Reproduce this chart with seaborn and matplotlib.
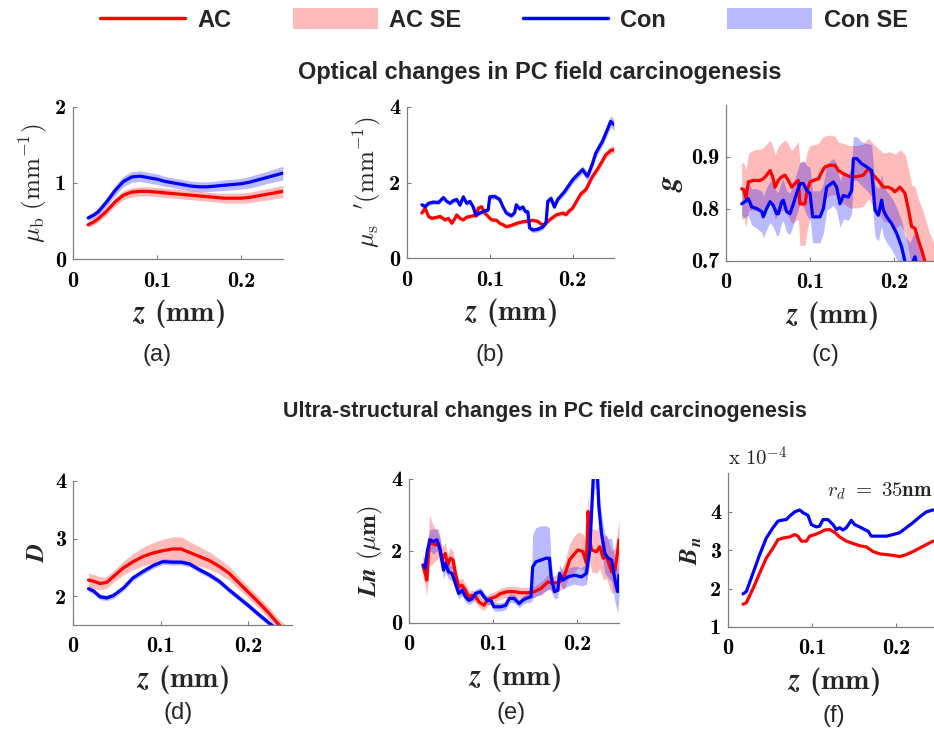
import matplotlib
matplotlib.use("Agg")
import matplotlib.pyplot as plt
import seaborn as sns
from matplotlib.lines import Line2D
from matplotlib.patches import Patch
from matplotlib.font_manager import FontProperties

sns.set_theme(style="ticks")
plt.rcParams["mathtext.fontset"] = "cm"
plt.rcParams["font.family"] = ["DejaVu Sans"]
plt.rcParams["axes.unicode_minus"] = False

RED = "#ff0000"
BLUE = "#0000ff"

# ---------------- (a) mu_b ----------------
z_a = [0.018, 0.025, 0.03, 0.04, 0.05, 0.06, 0.07, 0.08, 0.09, 0.10, 0.11, 0.12, 0.13,
       0.14, 0.15, 0.16, 0.17, 0.18, 0.19, 0.20, 0.21, 0.22, 0.23, 0.24, 0.25]
mub_ac = [0.45, 0.49, 0.53, 0.63, 0.75, 0.84, 0.88, 0.89, 0.89, 0.88, 0.87, 0.86, 0.85,
          0.84, 0.83, 0.82, 0.81, 0.80, 0.80, 0.80, 0.81, 0.83, 0.85, 0.87, 0.89]
mub_ac_se = [0.035, 0.04, 0.045, 0.05, 0.055, 0.06, 0.06, 0.06, 0.06, 0.06, 0.06, 0.06, 0.06,
             0.06, 0.06, 0.06, 0.06, 0.065, 0.065, 0.065, 0.07, 0.07, 0.075, 0.075, 0.08]
mub_con = [0.54, 0.58, 0.62, 0.75, 0.90, 1.02, 1.08, 1.09, 1.07, 1.05, 1.02, 1.00, 0.98,
           0.96, 0.95, 0.95, 0.96, 0.97, 0.98, 0.99, 1.01, 1.04, 1.07, 1.10, 1.13]
mub_con_se = [0.04, 0.045, 0.05, 0.06, 0.065, 0.07, 0.07, 0.07, 0.07, 0.07, 0.065, 0.065, 0.065,
              0.065, 0.065, 0.065, 0.065, 0.07, 0.07, 0.07, 0.075, 0.08, 0.08, 0.085, 0.09]

# ---------------- (b) mu_s' ----------------
z_b_con = [0.018, 0.022, 0.026, 0.032, 0.038, 0.044, 0.048, 0.052, 0.056, 0.060,
           0.064, 0.068, 0.072, 0.076, 0.080, 0.083, 0.088, 0.094, 0.098, 0.100,
           0.106, 0.112, 0.116, 0.120, 0.126, 0.130, 0.132, 0.136, 0.140, 0.143,
           0.146, 0.148, 0.152, 0.158, 0.164, 0.168, 0.170, 0.174, 0.178, 0.182,
           0.190, 0.200, 0.208, 0.212, 0.218, 0.224, 0.228, 0.236, 0.242, 0.246,
           0.250]
mus_con = [1.41, 1.36, 1.45, 1.48, 1.47, 1.60, 1.50, 1.45, 1.52, 1.55,
           1.40, 1.62, 1.45, 1.50, 1.35, 1.14, 1.19, 1.25, 1.27, 1.62,
           1.63, 1.55, 1.35, 1.19, 1.12, 1.20, 1.41, 1.30, 1.35, 1.23,
           1.22, 0.80, 0.74, 0.76, 0.82, 0.95, 1.50, 1.58, 1.35, 1.55,
           1.75, 2.07, 2.25, 2.34, 2.16, 2.50, 2.78, 3.09, 3.40, 3.62,
           3.53]
mus_con_se = [0.06, 0.06, 0.06, 0.06, 0.06, 0.06, 0.06, 0.06, 0.06, 0.06,
              0.06, 0.06, 0.06, 0.06, 0.06, 0.06, 0.06, 0.06, 0.06, 0.07,
              0.07, 0.07, 0.07, 0.07, 0.07, 0.07, 0.07, 0.07, 0.07, 0.07,
              0.07, 0.07, 0.07, 0.07, 0.07, 0.07, 0.08, 0.08, 0.08, 0.08,
              0.09, 0.10, 0.10, 0.11, 0.11, 0.12, 0.12, 0.13, 0.14, 0.15,
              0.15]
z_b_ac = [0.018, 0.022, 0.026, 0.030, 0.036, 0.040, 0.046, 0.050, 0.054, 0.058,
          0.060, 0.064, 0.068, 0.072, 0.076, 0.080, 0.084, 0.086, 0.090, 0.094,
          0.098, 0.102, 0.108, 0.112, 0.116, 0.120, 0.124, 0.128, 0.134, 0.140,
          0.146, 0.152, 0.158, 0.162, 0.166, 0.172, 0.180, 0.188, 0.192, 0.196,
          0.200, 0.206, 0.210, 0.216, 0.224, 0.232, 0.240, 0.246, 0.250]
mus_ac = [1.19, 1.32, 1.10, 1.05, 1.08, 1.10, 1.01, 1.05, 0.92, 1.05,
          1.14, 1.05, 1.01, 1.08, 1.10, 1.12, 1.12, 1.32, 1.36, 1.19,
          1.10, 1.01, 1.00, 0.92, 0.88, 0.83, 0.85, 0.88, 0.93, 0.96,
          0.98, 1.00, 0.97, 0.90, 0.88, 1.01, 1.14, 1.19, 1.15, 1.25,
          1.32, 1.55, 1.70, 1.81, 2.16, 2.42, 2.73, 2.85, 2.87]
mus_ac_se = [0.05, 0.05, 0.05, 0.05, 0.05, 0.05, 0.05, 0.05, 0.05, 0.05,
             0.05, 0.05, 0.05, 0.05, 0.05, 0.05, 0.05, 0.05, 0.05, 0.05,
             0.05, 0.05, 0.05, 0.05, 0.05, 0.05, 0.05, 0.05, 0.05, 0.05,
             0.05, 0.05, 0.05, 0.05, 0.05, 0.06, 0.06, 0.06, 0.06, 0.06,
             0.07, 0.07, 0.08, 0.08, 0.08, 0.09, 0.09, 0.10, 0.10]

# ---------------- (c) g ----------------
z_c_ac = [0.0187, 0.0214, 0.0238, 0.0266, 0.0325, 0.0405, 0.0444, 0.0484, 0.0524, 0.0556,
          0.0583, 0.0623, 0.0663, 0.0702, 0.0742, 0.0782, 0.0821, 0.0861, 0.0881, 0.0940,
          0.0968, 0.1000, 0.1040, 0.1100, 0.1139, 0.1179, 0.1238, 0.1298, 0.1337, 0.1397,
          0.1476, 0.1556, 0.1635, 0.1694, 0.1754, 0.1813, 0.1873, 0.1933, 0.1972, 0.2012,
          0.2071, 0.2131, 0.2171, 0.2210, 0.2250, 0.2290, 0.2329, 0.2369, 0.2420, 0.2500]
g_ac = [0.839, 0.836, 0.820, 0.852, 0.855, 0.855, 0.858, 0.865, 0.874, 0.862,
        0.842, 0.855, 0.862, 0.865, 0.855, 0.842, 0.849, 0.855, 0.810, 0.810,
        0.836, 0.852, 0.855, 0.858, 0.871, 0.881, 0.884, 0.884, 0.874, 0.868,
        0.862, 0.862, 0.865, 0.878, 0.865, 0.855, 0.842, 0.842, 0.839, 0.833,
        0.842, 0.830, 0.800, 0.766, 0.763, 0.740, 0.721, 0.699, 0.670, 0.640]
g_ac_se = [0.050, 0.052, 0.055, 0.055, 0.058, 0.060, 0.060, 0.060, 0.058, 0.060,
           0.062, 0.065, 0.065, 0.068, 0.070, 0.070, 0.072, 0.075, 0.080, 0.080,
           0.075, 0.070, 0.068, 0.068, 0.065, 0.060, 0.058, 0.056, 0.055, 0.058,
           0.060, 0.060, 0.060, 0.058, 0.060, 0.062, 0.065, 0.068, 0.070, 0.072,
           0.072, 0.075, 0.078, 0.080, 0.080, 0.080, 0.082, 0.085, 0.085, 0.085]
z_c_con = [0.0187, 0.0226, 0.0266, 0.0306, 0.0365, 0.0425, 0.0444, 0.0484, 0.0524, 0.0563,
           0.0603, 0.0623, 0.0663, 0.0683, 0.0722, 0.0762, 0.0802, 0.0841, 0.0881, 0.0921,
           0.0960, 0.1000, 0.1032, 0.1119, 0.1159, 0.1198, 0.1278, 0.1317, 0.1357, 0.1397,
           0.1456, 0.1496, 0.1516, 0.1556, 0.1615, 0.1675, 0.1734, 0.1774, 0.1813, 0.1853,
           0.1873, 0.1913, 0.1972, 0.2032, 0.2091, 0.2131, 0.2190, 0.2250, 0.2278, 0.2349,
           0.2429]
g_con = [0.810, 0.814, 0.820, 0.804, 0.801, 0.795, 0.785, 0.801, 0.814, 0.807,
         0.791, 0.791, 0.814, 0.817, 0.795, 0.791, 0.810, 0.830, 0.849, 0.849,
         0.836, 0.830, 0.785, 0.785, 0.801, 0.842, 0.852, 0.842, 0.810, 0.826,
         0.823, 0.836, 0.897, 0.897, 0.887, 0.881, 0.874, 0.798, 0.788, 0.817,
         0.798, 0.785, 0.772, 0.753, 0.727, 0.699, 0.685, 0.708, 0.690, 0.660,
         0.640]
g_con_se = [0.030, 0.030, 0.032, 0.035, 0.038, 0.040, 0.040, 0.040, 0.040, 0.042,
            0.042, 0.042, 0.040, 0.040, 0.040, 0.040, 0.040, 0.040, 0.040, 0.045,
            0.048, 0.050, 0.050, 0.050, 0.048, 0.045, 0.045, 0.045, 0.045, 0.045,
            0.045, 0.045, 0.042, 0.042, 0.042, 0.045, 0.050, 0.050, 0.050, 0.050,
            0.050, 0.050, 0.050, 0.050, 0.050, 0.050, 0.050, 0.050, 0.050, 0.050,
            0.050]

# ---------------- (d) D ----------------
z_d = [0.0177, 0.0234, 0.0309, 0.0385, 0.0460, 0.0574, 0.0687, 0.0800, 0.0913, 0.1026,
       0.1140, 0.1234, 0.1328, 0.1442, 0.1555, 0.1668, 0.1781, 0.1894, 0.2008, 0.2121,
       0.2234, 0.2347, 0.2500]
d_ac = [2.28, 2.26, 2.22, 2.24, 2.34, 2.49, 2.60, 2.69, 2.75, 2.79,
        2.82, 2.82, 2.76, 2.69, 2.62, 2.52, 2.40, 2.23, 2.06, 1.89,
        1.71, 1.51, 1.30]
d_ac_se = [0.12, 0.12, 0.11, 0.10, 0.10, 0.12, 0.14, 0.16, 0.18, 0.20,
           0.21, 0.21, 0.19, 0.17, 0.15, 0.13, 0.12, 0.11, 0.10, 0.10,
           0.10, 0.10, 0.10]
d_con = [2.13, 2.09, 1.99, 1.97, 2.01, 2.14, 2.32, 2.43, 2.53, 2.60,
         2.59, 2.59, 2.56, 2.46, 2.37, 2.26, 2.11, 1.97, 1.83, 1.68,
         1.54, 1.40, 1.20]
d_con_se = [0.05, 0.05, 0.05, 0.05, 0.05, 0.05, 0.05, 0.05, 0.05, 0.05,
            0.05, 0.05, 0.05, 0.05, 0.05, 0.05, 0.05, 0.05, 0.05, 0.05,
            0.05, 0.05, 0.05]

# ---------------- (e) Ln ----------------
z_e_con = [0.0172, 0.0192, 0.0220, 0.0252, 0.0292, 0.0332, 0.0372, 0.0412, 0.0432, 0.0472,
           0.0512, 0.0552, 0.0592, 0.0632, 0.0672, 0.0712, 0.0752, 0.0792, 0.0852, 0.0892,
           0.0932, 0.0972, 0.1012, 0.1092, 0.1152, 0.1192, 0.1252, 0.1312, 0.1352, 0.1392,
           0.1452, 0.1472, 0.1512, 0.1572, 0.1632, 0.1672, 0.1692, 0.1732, 0.1772, 0.1792,
           0.1832, 0.1892, 0.1972, 0.2052, 0.2112, 0.2152, 0.2192, 0.2220, 0.2244, 0.2260,
           0.2292, 0.2332, 0.2372, 0.2412, 0.2452, 0.2484, 0.2500]
ln_con = [1.61, 1.52, 2.03, 2.31, 2.26, 2.31, 2.03, 1.47, 1.66, 1.42,
          1.38, 1.10, 0.82, 0.91, 0.73, 0.63, 0.68, 0.82, 0.87, 0.73,
          0.63, 0.63, 0.45, 0.45, 0.49, 0.68, 0.68, 0.54, 0.63, 0.68,
          0.73, 1.56, 1.70, 1.75, 1.80, 1.80, 1.28, 0.87, 0.91, 1.38,
          1.19, 1.28, 1.33, 1.28, 1.38, 2.03, 3.98, 4.30, 4.10, 3.24,
          2.49, 1.93, 1.80, 1.75, 1.19, 0.87, 1.33]
ln_con_se = [0.25, 0.25, 0.30, 0.30, 0.35, 0.30, 0.30, 0.25, 0.25, 0.20,
             0.20, 0.18, 0.15, 0.15, 0.15, 0.12, 0.12, 0.12, 0.12, 0.12,
             0.12, 0.12, 0.12, 0.12, 0.12, 0.12, 0.12, 0.12, 0.12, 0.12,
             0.15, 0.90, 0.95, 0.95, 0.90, 0.85, 0.40, 0.20, 0.20, 0.25,
             0.25, 0.25, 0.25, 0.25, 0.30, 0.40, 0.50, 0.50, 0.50, 0.50,
             0.50, 0.55, 0.55, 0.60, 0.60, 0.60, 0.60]
z_e_ac = [0.0164, 0.0192, 0.0212, 0.0244, 0.0272, 0.0312, 0.0352, 0.0392, 0.0432, 0.0460,
          0.0492, 0.0524, 0.0552, 0.0592, 0.0632, 0.0672, 0.0712, 0.0752, 0.0792, 0.0832,
          0.0892, 0.0932, 0.0972, 0.1032, 0.1092, 0.1172, 0.1252, 0.1332, 0.1412, 0.1492,
          0.1572, 0.1652, 0.1712, 0.1792, 0.1852, 0.1912, 0.1972, 0.2012, 0.2072, 0.2112,
          0.2132, 0.2152, 0.2172, 0.2232, 0.2272, 0.2312, 0.2352, 0.2412, 0.2452, 0.2492,
          0.2500]
ln_ac = [1.61, 1.38, 1.19, 2.31, 2.21, 2.17, 2.21, 1.75, 1.93, 1.61,
         1.80, 1.75, 1.38, 1.00, 1.05, 0.91, 0.73, 0.77, 0.73, 0.59,
         0.49, 0.63, 0.68, 0.73, 0.82, 0.87, 0.87, 0.84, 0.84, 0.87,
         0.96, 1.14, 1.10, 1.14, 1.33, 1.75, 1.93, 2.03, 1.98, 1.66,
         3.10, 2.31, 2.03, 1.98, 2.12, 1.80, 1.84, 1.42, 1.47, 2.12,
         2.31]
ln_ac_se = [0.30, 0.35, 0.45, 0.70, 0.60, 0.45, 0.40, 0.35, 0.30, 0.30,
            0.30, 0.25, 0.25, 0.20, 0.20, 0.18, 0.15, 0.15, 0.15, 0.15,
            0.15, 0.15, 0.15, 0.15, 0.15, 0.15, 0.15, 0.15, 0.15, 0.15,
            0.18, 0.20, 0.20, 0.25, 0.35, 0.45, 0.50, 0.50, 0.50, 0.50,
            0.50, 0.55, 0.60, 0.60, 0.60, 0.60, 0.60, 0.60, 0.60, 0.60,
            0.60]

# ---------------- (f) B_n (x 1e-4) ----------------
z_f_con = [0.0179, 0.0218, 0.0298, 0.0377, 0.0456, 0.0536, 0.0595, 0.0655, 0.0694, 0.0734,
           0.0794, 0.0853, 0.0893, 0.0952, 0.0992, 0.1052, 0.1091, 0.1131, 0.1190, 0.1250,
           0.1290, 0.1329, 0.1369, 0.1409, 0.1468, 0.1508, 0.1567, 0.1627, 0.1667, 0.1706,
           0.1746, 0.1806, 0.1885, 0.1964, 0.2044, 0.2123, 0.2202, 0.2282, 0.2361, 0.2440]
bn_con = [1.86, 1.92, 2.40, 2.88, 3.31, 3.58, 3.75, 3.78, 3.79, 3.88,
          3.99, 4.04, 3.97, 3.90, 3.66, 3.60, 3.62, 3.79, 3.79, 3.66,
          3.53, 3.58, 3.52, 3.58, 3.77, 3.66, 3.60, 3.53, 3.49, 3.36,
          3.36, 3.36, 3.36, 3.40, 3.45, 3.58, 3.71, 3.86, 3.99, 4.04]
z_f_ac = [0.0179, 0.0218, 0.0298, 0.0377, 0.0456, 0.0536, 0.0595, 0.0655, 0.0734, 0.0794,
          0.0833, 0.0873, 0.0933, 0.0972, 0.1032, 0.1091, 0.1151, 0.1210, 0.1270, 0.1329,
          0.1409, 0.1488, 0.1567, 0.1647, 0.1726, 0.1806, 0.1885, 0.1964, 0.2044, 0.2123,
          0.2202, 0.2282, 0.2361, 0.2440]
bn_ac = [1.59, 1.63, 2.00, 2.40, 2.79, 3.05, 3.27, 3.31, 3.34, 3.40,
         3.36, 3.23, 3.23, 3.36, 3.40, 3.45, 3.52, 3.53, 3.46, 3.34,
         3.23, 3.17, 3.11, 3.08, 2.96, 2.90, 2.88, 2.86, 2.83, 2.88,
         2.96, 3.05, 3.14, 3.23]

x_ticks = [0, 0.1, 0.2]
x_ticklabels = ["0", "0.1", "0.2"]

W, H = 934, 730
fig = plt.figure(figsize=(W / 100, H / 100), dpi=100)
fig.patch.set_facecolor("white")


def px_axes(left, top, right, bottom):
    return fig.add_axes([left / W, 1 - bottom / H, (right - left) / W, (bottom - top) / H])


BOLD_SERIF = ["cmb10", "DejaVu Serif"]
TICK_SIZE = 16
XLABEL_SIZE = 21
YLABEL_SIZE = 18


def style(ax, ylim, yticks, yticklabels, ylabel, ylabel_kw=None):
    ax.set_xlim(0, 0.25)
    ax.set_ylim(*ylim)
    ax.set_xticks(x_ticks, labels=x_ticklabels, fontfamily=BOLD_SERIF, fontsize=TICK_SIZE)
    ax.set_yticks(yticks, labels=yticklabels, fontfamily=BOLD_SERIF, fontsize=TICK_SIZE)
    ax.tick_params(direction="in", length=3, width=0.8, color="#808080", pad=5,
                   labelcolor="black")
    ax.tick_params(axis="x", pad=9)
    for s in ("top", "right"):
        ax.spines[s].set_visible(False)
    for s in ("left", "bottom"):
        ax.spines[s].set_color("#808080")
        ax.spines[s].set_linewidth(0.9)
    ax.set_xlabel(r"$\boldsymbol{z}$ (mm)", fontfamily=BOLD_SERIF, fontsize=XLABEL_SIZE,
                  labelpad=5)
    kw = dict(fontsize=YLABEL_SIZE, labelpad=4)
    if ylabel_kw:
        kw.update(ylabel_kw)
    ax.set_ylabel(ylabel, **kw)
    ax.set_facecolor("white")


def band(ax, z, m, se, color):
    lo = [a - b for a, b in zip(m, se)]
    hi = [a + b for a, b in zip(m, se)]
    ax.fill_between(z, lo, hi, color=color, alpha=0.27, linewidth=0)


def line(ax, z, m, color):
    sns.lineplot(x=z, y=m, ax=ax, color=color, linewidth=2.3, estimator=None)


# (a)
ax = px_axes(73, 107, 283, 259)
band(ax, z_a, mub_ac, mub_ac_se, RED)
band(ax, z_a, mub_con, mub_con_se, BLUE)
line(ax, z_a, mub_ac, RED)
line(ax, z_a, mub_con, BLUE)
style(ax, (0, 2), [0, 1, 2], ["0", "1", "2"],
      r"$\mu_{\mathrm{b}}\ (\mathrm{mm}^{\mathrm{-1}})$")

# (b)
ax = px_axes(407, 107, 614, 258)
band(ax, z_b_ac, mus_ac, mus_ac_se, RED)
band(ax, z_b_con, mus_con, mus_con_se, BLUE)
line(ax, z_b_ac, mus_ac, RED)
line(ax, z_b_con, mus_con, BLUE)
style(ax, (0, 4), [0, 2, 4], ["0", "2", "4"],
      r"$\mu_{\mathrm{s}}\ \ '(\mathrm{mm}^{\mathrm{-1}})$")

# (c)
ax = px_axes(726, 105, 936, 261)
band(ax, z_c_ac, g_ac, g_ac_se, RED)
band(ax, z_c_con, g_con, g_con_se, BLUE)
line(ax, z_c_ac, g_ac, RED)
line(ax, z_c_con, g_con, BLUE)
style(ax, (0.7, 1.0), [0.7, 0.8, 0.9], ["0.7", "0.8", "0.9"], r"$\boldsymbol{g}$",
      dict(fontsize=21))

# (d)
ax = px_axes(73, 481, 292, 625)
band(ax, z_d, d_ac, d_ac_se, RED)
band(ax, z_d, d_con, d_con_se, BLUE)
line(ax, z_d, d_ac, RED)
line(ax, z_d, d_con, BLUE)
style(ax, (1.5, 4), [2, 3, 4], ["2", "3", "4"], r"$\boldsymbol{D}$")

# (e)
ax = px_axes(409, 479, 619, 623)
band(ax, z_e_ac, ln_ac, ln_ac_se, RED)
band(ax, z_e_con, ln_con, ln_con_se, BLUE)
line(ax, z_e_ac, ln_ac, RED)
line(ax, z_e_con, ln_con, BLUE)
style(ax, (0, 4), [0, 2, 4], ["0", "2", "4"],
      r"$\boldsymbol{Ln}\ \mathbf{(}\mathrm{\mu}\mathbf{m)}$")

# (f)
ax = px_axes(728, 473, 938, 627)
line(ax, z_f_ac, bn_ac, RED)
line(ax, z_f_con, bn_con, BLUE)
style(ax, (1, 5), [1, 2, 3, 4], ["1", "2", "3", "4"],
      r"$\boldsymbol{B}_{\boldsymbol{n}}$")
ax.text(0.0, 1.02, r"$\mathrm{x}\ 10^{\mathrm{-4}}$", transform=ax.transAxes,
        fontsize=15, ha="left", va="bottom")
ax.text(0.47, 0.88, r"$r_d\ \mathbf{=\ 35nm}$", transform=ax.transAxes,
        fontsize=15, ha="left", va="center")

# panel letters
SANS = "Liberation Sans"
for x, y, s in [(157, 355, "(a)"), (490, 355, "(b)"), (825, 355, "(c)"),
                (178, 713, "(d)"), (511, 713, "(e)"), (834, 716, "(f)")]:
    fig.text(x / W, 1 - y / H, s, ha="center", va="center", family=SANS, fontsize=17)

# section titles
fig.text(540 / W, 1 - 73 / H, "Optical changes in PC field carcinogenesis",
         ha="center", va="center", family=SANS, weight="bold", fontsize=17)
fig.text(545 / W, 1 - 412 / H, "Ultra-structural changes in PC field carcinogenesis",
         ha="center", va="center", family=SANS, weight="bold", fontsize=15.5)

# legend
handles = [Line2D([], [], color=RED, lw=2.5),
           Patch(facecolor=RED, alpha=0.27, edgecolor="none"),
           Line2D([], [], color=BLUE, lw=2.5),
           Patch(facecolor=BLUE, alpha=0.27, edgecolor="none")]
fig.legend(handles, ["AC", "AC SE", "Con", "Con SE"], loc="center",
           bbox_to_anchor=(504 / W, 1 - 20 / H), ncol=4, frameon=False,
           prop=FontProperties(family=SANS, weight="bold", size=17),
           handlelength=3.6, handleheight=1.0, handletextpad=0.5, columnspacing=2.6)

fig.savefig("out.png", dpi=100, facecolor="white")
